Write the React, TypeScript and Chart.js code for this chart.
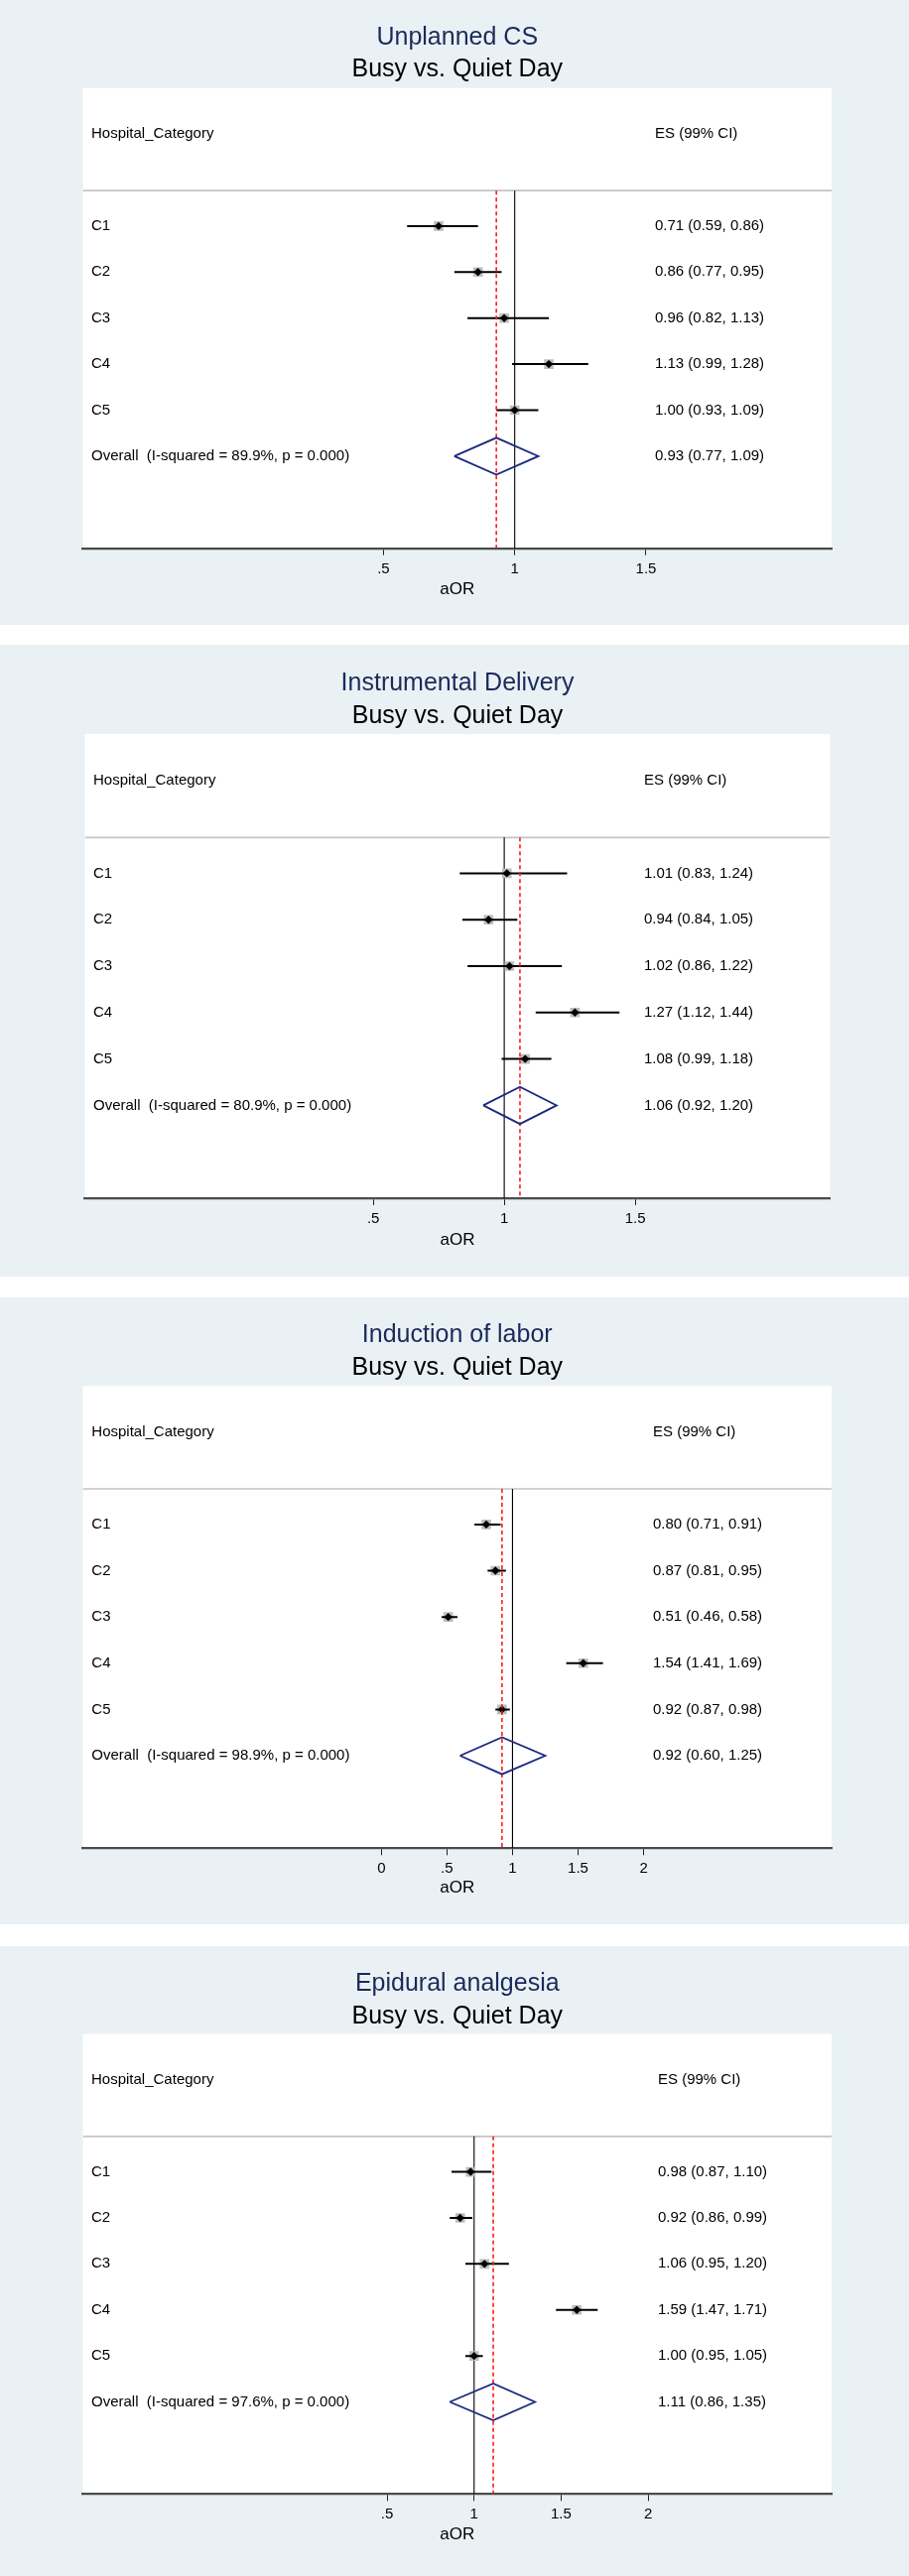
import React, { useEffect, useRef } from 'react';
import { Chart, registerables } from 'chart.js';

Chart.register(...registerables);

const FONT = '"Liberation Sans", Arial, Helvetica, sans-serif';
const NAVY_TITLE = '#1b2a5a';
const DIAMOND = '#1b2a80';
const PANEL_BG = '#e9f1f4';

// rows (y data units, 0 = x axis, 10 = top of plot region)
const studyLabels = ['C1', 'C2', 'C3', 'C4', 'C5'];
const studyRows = [7, 6, 5, 4, 3];
const overallRow = 2;
const headerRow = 9;
const separatorRow = 7.77;
const subtitle = 'Busy vs. Quiet Day';
const axisTitle = 'aOR';

// Panel 1: Unplanned CS
const csTitle = 'Unplanned CS';
const csEs = [0.71, 0.86, 0.96, 1.13, 1.0];
const csLo = [0.59, 0.77, 0.82, 0.99, 0.93];
const csHi = [0.86, 0.95, 1.13, 1.28, 1.09];
const csOverall = [0.93, 0.77, 1.09];
const csISquared = '89.9';
const csTicks = [0.5, 1, 1.5];
const csRange = [-0.645, 2.207];

// Panel 2: Instrumental Delivery
const idTitle = 'Instrumental Delivery';
const idEs = [1.01, 0.94, 1.02, 1.27, 1.08];
const idLo = [0.83, 0.84, 0.86, 1.12, 0.99];
const idHi = [1.24, 1.05, 1.22, 1.44, 1.18];
const idOverall = [1.06, 0.92, 1.2];
const idISquared = '80.9';
const idTicks = [0.5, 1, 1.5];
const idRange = [-0.601, 2.244];

// Panel 3: Induction of labor
const ilTitle = 'Induction of labor';
const ilEs = [0.8, 0.87, 0.51, 1.54, 0.92];
const ilLo = [0.71, 0.81, 0.46, 1.41, 0.87];
const ilHi = [0.91, 0.95, 0.58, 1.69, 0.98];
const ilOverall = [0.92, 0.6, 1.25];
const ilISquared = '98.9';
const ilTicks = [0, 0.5, 1, 1.5, 2];
const ilRange = [-2.277, 3.434];

// Panel 4: Epidural analgesia
const eaTitle = 'Epidural analgesia';
const eaEs = [0.98, 0.92, 1.06, 1.59, 1.0];
const eaLo = [0.87, 0.86, 0.95, 1.47, 0.95];
const eaHi = [1.1, 0.99, 1.2, 1.71, 1.05];
const eaOverall = [1.11, 0.86, 1.35];
const eaISquared = '97.6';
const eaTicks = [0.5, 1, 1.5, 2];
const eaRange = [-1.248, 3.054];

const pValue = '0.000';

// layout (pixels) per panel
const layouts = [
  { top: 0, height: 630, left: 83.5, right: 838, plotTop: 88.7, axisY: 552.7, labelX: 92, esX: 660, titleY: 38, subY: 70.5, aorY: 594 },
  { top: 650, height: 637, left: 85.5, right: 836.5, plotTop: 90, axisY: 558, labelX: 94, esX: 649, titleY: 39.4, subY: 72, aorY: 600 },
  { top: 1308, height: 632, left: 83.5, right: 838, plotTop: 89, axisY: 555.3, labelX: 92.3, esX: 658, titleY: 38.5, subY: 71.5, aorY: 595 },
  { top: 1962, height: 635, left: 83.5, right: 838, plotTop: 88.4, axisY: 552.3, labelX: 92, esX: 663, titleY: 38.2, subY: 71, aorY: 593 },
];

const panels = [
  { title: csTitle, es: csEs, lo: csLo, hi: csHi, overall: csOverall, i2: csISquared, ticks: csTicks, range: csRange },
  { title: idTitle, es: idEs, lo: idLo, hi: idHi, overall: idOverall, i2: idISquared, ticks: idTicks, range: idRange },
  { title: ilTitle, es: ilEs, lo: ilLo, hi: ilHi, overall: ilOverall, i2: ilISquared, ticks: ilTicks, range: ilRange },
  { title: eaTitle, es: eaEs, lo: eaLo, hi: eaHi, overall: eaOverall, i2: eaISquared, ticks: eaTicks, range: eaRange },
];

const f2 = (v: number) => v.toFixed(2);
const ciText = (e: number, l: number, h: number) => `${f2(e)} (${f2(l)}, ${f2(h)})`;
const tickText = (v: number) => (v > 0 && v < 1 ? String(v).replace(/^0/, '') : String(v));

function ForestPanel({ data, lay }: { data: any; lay: any }) {
  const ref = useRef<HTMLCanvasElement>(null);

  useEffect(() => {
    const canvas = ref.current;
    if (!canvas) return;
    const [xMin, xMax] = data.range;
    const [ov, ovLo, ovHi] = data.overall;

    const datasets: any[] = [];
    // separator line
    datasets.push({
      data: [{ x: xMin, y: separatorRow }, { x: xMax, y: separatorRow }],
      showLine: true, borderColor: '#c4c4c4', borderWidth: 1.6, pointRadius: 0, order: 9,
    });
    // null line at 1
    datasets.push({
      data: [{ x: 1, y: separatorRow }, { x: 1, y: 0 }],
      showLine: true, borderColor: '#000000', borderWidth: 1.1, pointRadius: 0, order: 8,
    });
    // weight boxes
    datasets.push({
      data: data.es.map((v: number, i: number) => ({ x: v, y: studyRows[i] })),
      pointStyle: 'rect', pointRadius: 6.8, backgroundColor: '#bdbdbd', borderWidth: 0, order: 7,
    });
    // CI lines
    data.es.forEach((_: number, i: number) => {
      datasets.push({
        data: [{ x: data.lo[i], y: studyRows[i] }, { x: data.hi[i], y: studyRows[i] }],
        showLine: true, borderColor: '#000000', borderWidth: 2, pointRadius: 0, order: 6,
      });
    });
    // point estimates
    datasets.push({
      data: data.es.map((v: number, i: number) => ({ x: v, y: studyRows[i] })),
      pointStyle: 'rectRot', pointRadius: 4.2, backgroundColor: '#000000', borderWidth: 0, order: 5,
    });
    // overall dashed line
    datasets.push({
      data: [{ x: ov, y: separatorRow }, { x: ov, y: 0 }],
      showLine: true, borderColor: '#ff1a1a', borderWidth: 1.6, borderDash: [4, 3], pointRadius: 0, order: 4,
    });
    // overall diamond
    datasets.push({
      data: [
        { x: ovLo, y: overallRow }, { x: ov, y: overallRow + 0.4 }, { x: ovHi, y: overallRow },
        { x: ov, y: overallRow - 0.4 }, { x: ovLo, y: overallRow },
      ],
      showLine: true, borderColor: DIAMOND, borderWidth: 1.8, pointRadius: 0, order: 3,
      borderJoinStyle: 'miter',
    });

    const decor = {
      id: 'decor',
      beforeDraw(chart: any) {
        const { ctx, chartArea, width, height } = chart;
        ctx.save();
        ctx.fillStyle = PANEL_BG;
        ctx.fillRect(0, 0, width, height);
        ctx.fillStyle = '#ffffff';
        ctx.fillRect(chartArea.left, chartArea.top, chartArea.right - chartArea.left, chartArea.bottom - chartArea.top);
        ctx.restore();
      },
      afterDraw(chart: any) {
        const { ctx, chartArea } = chart;
        const ys = chart.scales.y;
        const cx = (chartArea.left + chartArea.right) / 2;
        ctx.save();
        ctx.textBaseline = 'middle';
        ctx.textAlign = 'center';
        ctx.font = `25px ${FONT}`;
        ctx.fillStyle = NAVY_TITLE;
        ctx.fillText(data.title, cx, lay.titleY);
        ctx.fillStyle = '#000000';
        ctx.fillText(subtitle, cx, lay.subY);

        ctx.textAlign = 'left';
        ctx.font = `15px ${FONT}`;
        const hy = ys.getPixelForValue(headerRow);
        ctx.fillText('Hospital_Category', lay.labelX, hy);
        ctx.fillText('ES (99% CI)', lay.esX, hy);
        studyLabels.forEach((lab, i) => {
          const y = ys.getPixelForValue(studyRows[i]);
          ctx.fillText(lab, lay.labelX, y);
          ctx.fillText(ciText(data.es[i], data.lo[i], data.hi[i]), lay.esX, y);
        });
        const oy = ys.getPixelForValue(overallRow);
        ctx.fillText(`Overall  (I-squared = ${data.i2}%, p = ${pValue})`, lay.labelX, oy);
        ctx.fillText(ciText(ov, ovLo, ovHi), lay.esX, oy);
        ctx.restore();
      },
    };

    const chart = new Chart(canvas, {
      type: 'scatter',
      data: { datasets },
      options: {
        animation: false,
        responsive: false,
        events: [],
        layout: {
          autoPadding: false,
          padding: { left: lay.left, right: 916 - lay.right, top: lay.plotTop, bottom: 0 },
        },
        plugins: { legend: { display: false }, tooltip: { enabled: false }, title: { display: false } },
        scales: {
          x: {
            type: 'linear',
            position: 'bottom',
            min: xMin,
            max: xMax,
            afterBuildTicks: (s: any) => {
              s.ticks = data.ticks.map((v: number) => ({ value: v }));
            },
            afterFit: (s: any) => {
              s.height = lay.height - lay.axisY;
            },
            ticks: {
              autoSkip: false,
              maxRotation: 0,
              padding: 5,
              color: '#000000',
              font: { size: 15, family: FONT },
              callback: (v: any) => tickText(Number(v)),
            },
            grid: { drawOnChartArea: false, drawTicks: true, tickLength: 7, color: '#222222', lineWidth: 1 },
            border: { display: true, color: '#4a4a4a', width: 2.2 },
            title: {
              display: true,
              text: axisTitle,
              color: '#000000',
              font: { size: 17, family: FONT },
              padding: { top: 0, bottom: lay.height - lay.aorY - 10.2 },
            },
          },
          y: { type: 'linear', min: 0, max: 10, display: false },
        },
      },
      plugins: [decor],
    } as any);

    return () => chart.destroy();
  }, [data, lay]);

  return (
    <div style={{ position: 'absolute', left: 0, top: lay.top, width: 916, height: lay.height }}>
      <canvas ref={ref} width={916} height={lay.height} style={{ display: 'block', width: 916, height: lay.height }} />
    </div>
  );
}

export default function App() {
  return (
    <div style={{ position: 'absolute', left: 0, top: 0, width: 916, height: 2597, background: '#ffffff' }}>
      {panels.map((p, i) => (
        <ForestPanel key={i} data={p} lay={layouts[i]} />
      ))}
    </div>
  );
}
